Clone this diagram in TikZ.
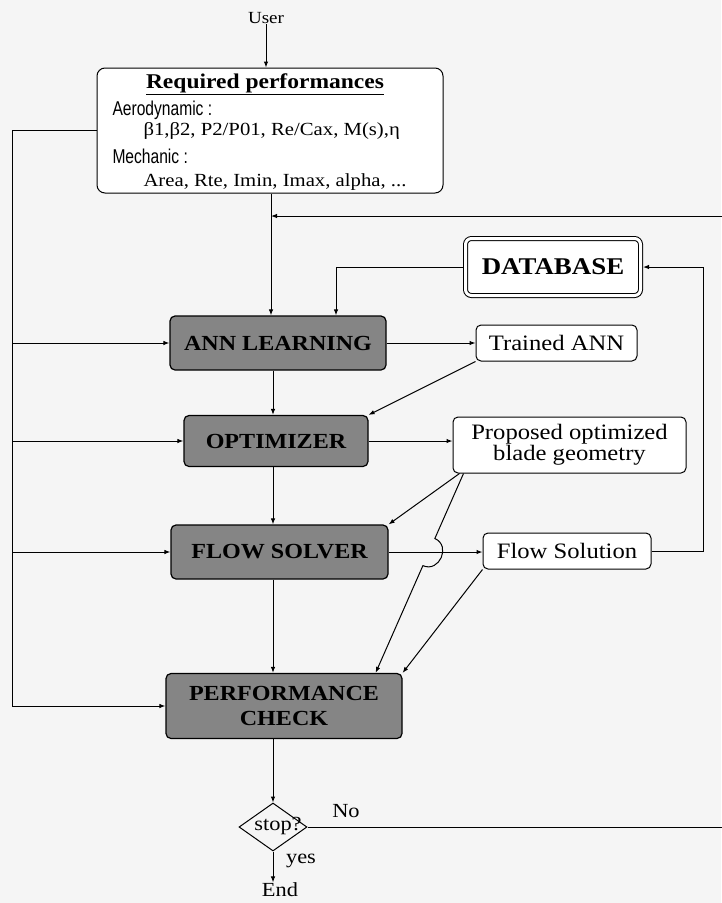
\documentclass[tikz,border=0pt]{standalone}
\usepackage{fontspec}
\setmainfont{Liberation Serif}[FakeStretch=1.12]
\newfontfamily\narrowsf{Liberation Sans}[FakeStretch=0.78]
\usetikzlibrary{arrows.meta,shapes.geometric,calc}

\begin{document}
\begin{tikzpicture}[x=1pt,y=-1pt,
  line width=1pt,
  >={Latex[length=6pt,width=4.5pt]},
  greybox/.style={draw, line width=1.2pt, rounded corners=5pt, fill=black!48,
    font=\fontsize{21.5}{25}\selectfont\bfseries, inner sep=0pt, align=center},
  whitebox/.style={draw, line width=1pt, rounded corners=5pt, fill=white,
    font=\fontsize{22}{19}\selectfont, inner sep=0pt, align=center},
  lbl/.style={inner sep=0pt, font=\fontsize{20}{22}\selectfont},
  narrow/.style={inner sep=0pt, font=\narrowsf\fontsize{20}{22}\selectfont},
  small/.style={inner sep=0pt, font=\fontsize{18.5}{22}\selectfont},
]
% paper and page size
\fill[black!4] (0,0) rectangle (721,903);
\useasboundingbox (0,0) rectangle (721,903);

% guide coordinates for the buses
\coordinate (mainx) at (271,0);
\coordinate (mainy) at (273,0);
\coordinate (lbus) at (12,0);
\coordinate (rx) at (703,0);
\coordinate (dbx) at (336,0);
\coordinate (fb) at (722,216);

% requirements block
\node[lbl, font=\fontsize{17}{19}\selectfont] (user) at (266,18) {User};
\node[draw, rounded corners=8pt, line width=1pt, fill=white,
      minimum width=346pt, minimum height=125pt, inner sep=0pt] (req) at (270,130.5) {};
\node[lbl, anchor=base, font=\fontsize{21}{22}\selectfont\bfseries] (reqtitle) at (265,88) {\underline{Required performances}};
\node[narrow, anchor=base west] (aero) at (112,115) {Aerodynamic :};
\node[small, anchor=base west] (aerovals) at (143,135) {β1,β2, P2/P01, Re/Cax, M(s),η};
\node[narrow, anchor=base west] (mech) at (112,163) {Mechanic :};
\node[small, anchor=base west] (mechvals) at (143,186) {Area, Rte, Imin, Imax, alpha, ...};

% process boxes
\node[draw, double, double distance=3pt, line width=1pt, rounded corners=6pt, fill=white,
      minimum width=175pt, minimum height=57pt, outer sep=2.5pt,
      font=\fontsize{24}{26}\selectfont\bfseries] (db) at (553,267) {DATABASE};
\node[greybox, minimum width=216pt, minimum height=54pt] (ann) at (278,343) {ANN LEARNING};
\node[whitebox, minimum width=161pt, minimum height=36pt] (trained) at (556.5,343) {Trained ANN};
\node[greybox, minimum width=184pt, minimum height=51pt] (opt) at (276,441) {OPTIMIZER};
\node[whitebox, minimum width=233pt, minimum height=56pt] (prop) at (569.5,445) {Proposed optimized\\blade geometry};
\node[greybox, minimum width=217pt, minimum height=54pt] (flow) at (279.5,552) {FLOW SOLVER};
\node[whitebox, minimum width=168pt, minimum height=36pt] (fsol) at (567,551) {Flow Solution};
\node[greybox, minimum width=236pt, minimum height=65pt] (pc) at (284,706) {PERFORMANCE\\CHECK};
\node[draw, diamond, line width=1pt, minimum width=68pt, minimum height=48pt, inner sep=0pt] (stop) at (273,827) {};
\node[lbl] (stoptxt) at (278,826) {stop?};
\node[lbl] (nolbl) at (346,811) {No};
\node[lbl] (yeslbl) at (301,861) {yes};
\node[lbl] (endn) at (280,890) {End};

% user input
\draw[->] (user.south) -- (req.north -| user.south);

% requirements bus on the left
\draw[->] (req.west) -| (lbus |- pc.west) -- (pc.west);
\draw[->] (lbus |- ann.west) -- (ann.west);
\draw[->] (lbus |- opt.west) -- (opt.west);
\draw[->] (lbus |- flow.west) -- (flow.west);

% main chain
\draw[->] (req.south -| mainx) -- (ann.north -| mainx);
\draw[->] (ann.south -| mainy) -- (opt.north -| mainy);
\draw[->] (opt.south -| mainy) -- (flow.north -| mainy);
\draw[->] (flow.south -| mainy) -- (pc.north -| mainy);
\draw[->] (pc.south -| stop.north) -- (stop.north);
\draw[->] (stop.south) -- (stop.south |- endn.north);

% loop back when not finished
\draw[->] (stop.east) -| (fb) -- (fb -| mainx);

% database
\draw[->] (db.west) -| (ann.north -| dbx);
\draw[->] (fsol.east) -| (rx |- db.east) -- (db.east);

% side results
\draw[->] (ann.east) -- (trained.west);
\draw[->] (trained.south west) -- (opt.north east);
\draw[->] (opt.east) -- (opt.east -| prop.west);
\draw[->] ($(prop.south west)+(7,0)$) -- (flow.north east);
\draw[->] (flow.east) -- (flow.east -| fsol.west);
\draw[->] (fsol.south west) -- (pc.north east);

% geometry to performance check, hopping over the solver output
\coordinate (pA) at ($(prop.south west)+(11,0)$);
\coordinate (pB) at ($(pc.north east)+(-27,0)$);
\coordinate (hs) at ($(pA)!0.326!(pB)$);
\coordinate (he) at ($(pA)!0.462!(pB)$);
\draw[->] (pA) -- (hs) .. controls ($(hs)+(16.5,7.3)$) and ($(he)+(16.5,7.3)$) .. (he) -- (pB);
\end{tikzpicture}
\end{document}
